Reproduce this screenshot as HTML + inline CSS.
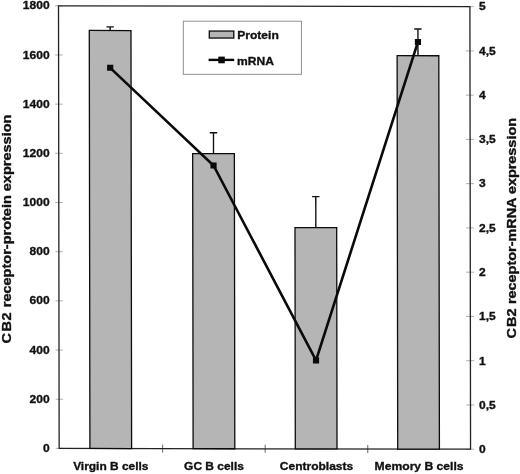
<!DOCTYPE html>
<html lang="en"><head><meta charset="utf-8"><title>CB2 receptor expression</title>
<style>html,body{margin:0;padding:0;background:#fff}body{width:520px;height:474px;overflow:hidden}svg{display:block}text{font-family:"Liberation Sans",Arial,Helvetica,sans-serif;font-weight:bold;fill:#111;stroke:#111;stroke-width:0.35px;stroke-linejoin:round}</style></head><body>
<svg width="520" height="474" viewBox="0 0 520 474">
<rect width="520" height="474" fill="#fff"/>
<g transform="matrix(1,0.002,0.0015,1,-0.009,-0.117)">
<line x1="55.00" x2="62.50" y1="448.40" y2="448.40" stroke="#9a9a9a" stroke-width="0.8"/>
<line x1="55.00" x2="62.50" y1="399.22" y2="399.22" stroke="#9a9a9a" stroke-width="0.8"/>
<line x1="55.00" x2="62.50" y1="350.04" y2="350.04" stroke="#9a9a9a" stroke-width="0.8"/>
<line x1="55.00" x2="62.50" y1="300.87" y2="300.87" stroke="#9a9a9a" stroke-width="0.8"/>
<line x1="55.00" x2="62.50" y1="251.69" y2="251.69" stroke="#9a9a9a" stroke-width="0.8"/>
<line x1="55.00" x2="62.50" y1="202.51" y2="202.51" stroke="#9a9a9a" stroke-width="0.8"/>
<line x1="55.00" x2="62.50" y1="153.33" y2="153.33" stroke="#9a9a9a" stroke-width="0.8"/>
<line x1="55.00" x2="62.50" y1="104.16" y2="104.16" stroke="#9a9a9a" stroke-width="0.8"/>
<line x1="55.00" x2="62.50" y1="54.98" y2="54.98" stroke="#9a9a9a" stroke-width="0.8"/>
<line x1="55.00" x2="62.50" y1="5.80" y2="5.80" stroke="#9a9a9a" stroke-width="0.8"/>
<line x1="465.70" x2="473.70" y1="448.40" y2="448.40" stroke="#9a9a9a" stroke-width="0.8"/>
<line x1="465.70" x2="473.70" y1="404.14" y2="404.14" stroke="#9a9a9a" stroke-width="0.8"/>
<line x1="465.70" x2="473.70" y1="359.88" y2="359.88" stroke="#9a9a9a" stroke-width="0.8"/>
<line x1="465.70" x2="473.70" y1="315.62" y2="315.62" stroke="#9a9a9a" stroke-width="0.8"/>
<line x1="465.70" x2="473.70" y1="271.36" y2="271.36" stroke="#9a9a9a" stroke-width="0.8"/>
<line x1="465.70" x2="473.70" y1="227.10" y2="227.10" stroke="#9a9a9a" stroke-width="0.8"/>
<line x1="465.70" x2="473.70" y1="182.84" y2="182.84" stroke="#9a9a9a" stroke-width="0.8"/>
<line x1="465.70" x2="473.70" y1="138.58" y2="138.58" stroke="#9a9a9a" stroke-width="0.8"/>
<line x1="465.70" x2="473.70" y1="94.32" y2="94.32" stroke="#9a9a9a" stroke-width="0.8"/>
<line x1="465.70" x2="473.70" y1="50.06" y2="50.06" stroke="#9a9a9a" stroke-width="0.8"/>
<line x1="465.70" x2="473.70" y1="5.80" y2="5.80" stroke="#9a9a9a" stroke-width="0.8"/>
<line x1="162.0" x2="162.0" y1="444.4" y2="452.4" stroke="#555" stroke-width="0.9"/>
<line x1="264.5" x2="264.5" y1="444.4" y2="452.4" stroke="#555" stroke-width="0.9"/>
<line x1="367.1" x2="367.1" y1="444.4" y2="452.4" stroke="#555" stroke-width="0.9"/>
<rect x="58.5" y="5.8" width="411.40" height="442.60" fill="none" stroke="#222" stroke-width="1.3"/>
<line x1="110.1" x2="110.1" y1="26.8" y2="30.39" stroke="#111" stroke-width="1.4"/>
<line x1="106.40" x2="113.80" y1="26.8" y2="26.8" stroke="#111" stroke-width="1.4"/>
<rect x="89.25" y="30.39" width="41.7" height="418.01" fill="#b5b5b5" stroke="#0c0c0c" stroke-width="1.3"/>
<line x1="213.3" x2="213.3" y1="132.5" y2="153.33" stroke="#111" stroke-width="1.4"/>
<line x1="209.60" x2="217.00" y1="132.5" y2="132.5" stroke="#111" stroke-width="1.4"/>
<rect x="192.45" y="153.33" width="41.7" height="295.07" fill="#b5b5b5" stroke="#0c0c0c" stroke-width="1.3"/>
<line x1="315.5" x2="315.5" y1="196.1" y2="227.10" stroke="#111" stroke-width="1.4"/>
<line x1="311.80" x2="319.20" y1="196.1" y2="196.1" stroke="#111" stroke-width="1.4"/>
<rect x="294.65" y="227.10" width="41.7" height="221.30" fill="#b5b5b5" stroke="#0c0c0c" stroke-width="1.3"/>
<line x1="417.9" x2="417.9" y1="28.3" y2="54.98" stroke="#111" stroke-width="1.4"/>
<line x1="414.20" x2="421.60" y1="28.3" y2="28.3" stroke="#111" stroke-width="1.4"/>
<rect x="397.05" y="54.98" width="41.7" height="393.42" fill="#b5b5b5" stroke="#0c0c0c" stroke-width="1.3"/>
<polyline points="110.10,67.76 213.30,165.14 315.50,359.88 417.90,41.21" fill="none" stroke="#0a0a0a" stroke-width="2.6" stroke-linejoin="miter"/>
<rect x="107.00" y="64.76" width="6.2" height="6.0" fill="#0a0a0a"/>
<rect x="210.20" y="162.14" width="6.2" height="6.0" fill="#0a0a0a"/>
<rect x="312.40" y="356.88" width="6.2" height="6.0" fill="#0a0a0a"/>
<rect x="414.80" y="38.21" width="6.2" height="6.0" fill="#0a0a0a"/>
</g>
<text transform="translate(49.60,452.00) scale(1.055,1)" font-size="11.4" text-anchor="end">0</text>
<text transform="translate(49.60,402.82) scale(1.055,1)" font-size="11.4" text-anchor="end">200</text>
<text transform="translate(49.60,353.64) scale(1.055,1)" font-size="11.4" text-anchor="end">400</text>
<text transform="translate(49.60,304.47) scale(1.055,1)" font-size="11.4" text-anchor="end">600</text>
<text transform="translate(49.60,255.29) scale(1.055,1)" font-size="11.4" text-anchor="end">800</text>
<text transform="translate(49.60,206.11) scale(1.055,1)" font-size="11.4" text-anchor="end">1000</text>
<text transform="translate(49.60,156.93) scale(1.055,1)" font-size="11.4" text-anchor="end">1200</text>
<text transform="translate(49.60,107.76) scale(1.055,1)" font-size="11.4" text-anchor="end">1400</text>
<text transform="translate(49.60,58.58) scale(1.055,1)" font-size="11.4" text-anchor="end">1600</text>
<text transform="translate(49.60,9.40) scale(1.055,1)" font-size="11.4" text-anchor="end">1800</text>
<text transform="translate(479.10,453.02) scale(1.055,1)" font-size="11.4" text-anchor="start">0</text>
<text transform="translate(479.10,408.76) scale(1.055,1)" font-size="11.4" text-anchor="start">0,5</text>
<text transform="translate(479.10,364.50) scale(1.055,1)" font-size="11.4" text-anchor="start">1</text>
<text transform="translate(479.10,320.24) scale(1.055,1)" font-size="11.4" text-anchor="start">1,5</text>
<text transform="translate(479.10,275.98) scale(1.055,1)" font-size="11.4" text-anchor="start">2</text>
<text transform="translate(479.10,231.72) scale(1.055,1)" font-size="11.4" text-anchor="start">2,5</text>
<text transform="translate(479.10,187.46) scale(1.055,1)" font-size="11.4" text-anchor="start">3</text>
<text transform="translate(479.10,143.20) scale(1.055,1)" font-size="11.4" text-anchor="start">3,5</text>
<text transform="translate(479.10,98.94) scale(1.055,1)" font-size="11.4" text-anchor="start">4</text>
<text transform="translate(479.10,54.68) scale(1.055,1)" font-size="11.4" text-anchor="start">4,5</text>
<text transform="translate(479.10,10.42) scale(1.055,1)" font-size="11.4" text-anchor="start">5</text>
<text transform="translate(110.80,469.70) scale(1.048,1)" font-size="11.4" text-anchor="middle">Virgin B cells</text>
<text transform="translate(214.00,469.70) scale(1.05,1)" font-size="11.4" text-anchor="middle">GC B cells</text>
<text transform="translate(316.50,469.70) scale(1.055,1)" font-size="11.4" text-anchor="middle">Centroblasts</text>
<text transform="translate(419.10,469.70) scale(1.065,1)" font-size="11.4" text-anchor="middle">Memory B cells</text>
<rect x="183.3" y="21.2" width="118.1" height="53.1" fill="#fff" stroke="#858585" stroke-width="0.9"/>
<rect x="209.3" y="31.05" width="24.5" height="7.0" fill="#b5b5b5" stroke="#0c0c0c" stroke-width="1.3"/>
<text transform="translate(237.20,38.50) scale(1.06,1)" font-size="11.4" text-anchor="start">Protein</text>
<line x1="208.6" x2="234.2" y1="59.9" y2="59.9" stroke="#0a0a0a" stroke-width="2.4"/>
<rect x="218.3" y="56.6" width="6.5" height="6.7" fill="#0a0a0a"/>
<text transform="translate(237.00,64.50) scale(1.06,1)" font-size="11.4" text-anchor="start">mRNA</text>
<text transform="translate(11.3,343.6) rotate(-90) scale(1.10,1)" font-size="13.2"><tspan letter-spacing="1.5">C</tspan><tspan letter-spacing="0.5">B2 </tspan>receptor-protein expression</text>
<text transform="translate(516.1,338.6) rotate(-90) scale(1.092,1)" font-size="13.2"><tspan letter-spacing="1.0">C</tspan><tspan letter-spacing="0.2">B2 </tspan>receptor-mRNA expression</text>
</svg></body></html>
